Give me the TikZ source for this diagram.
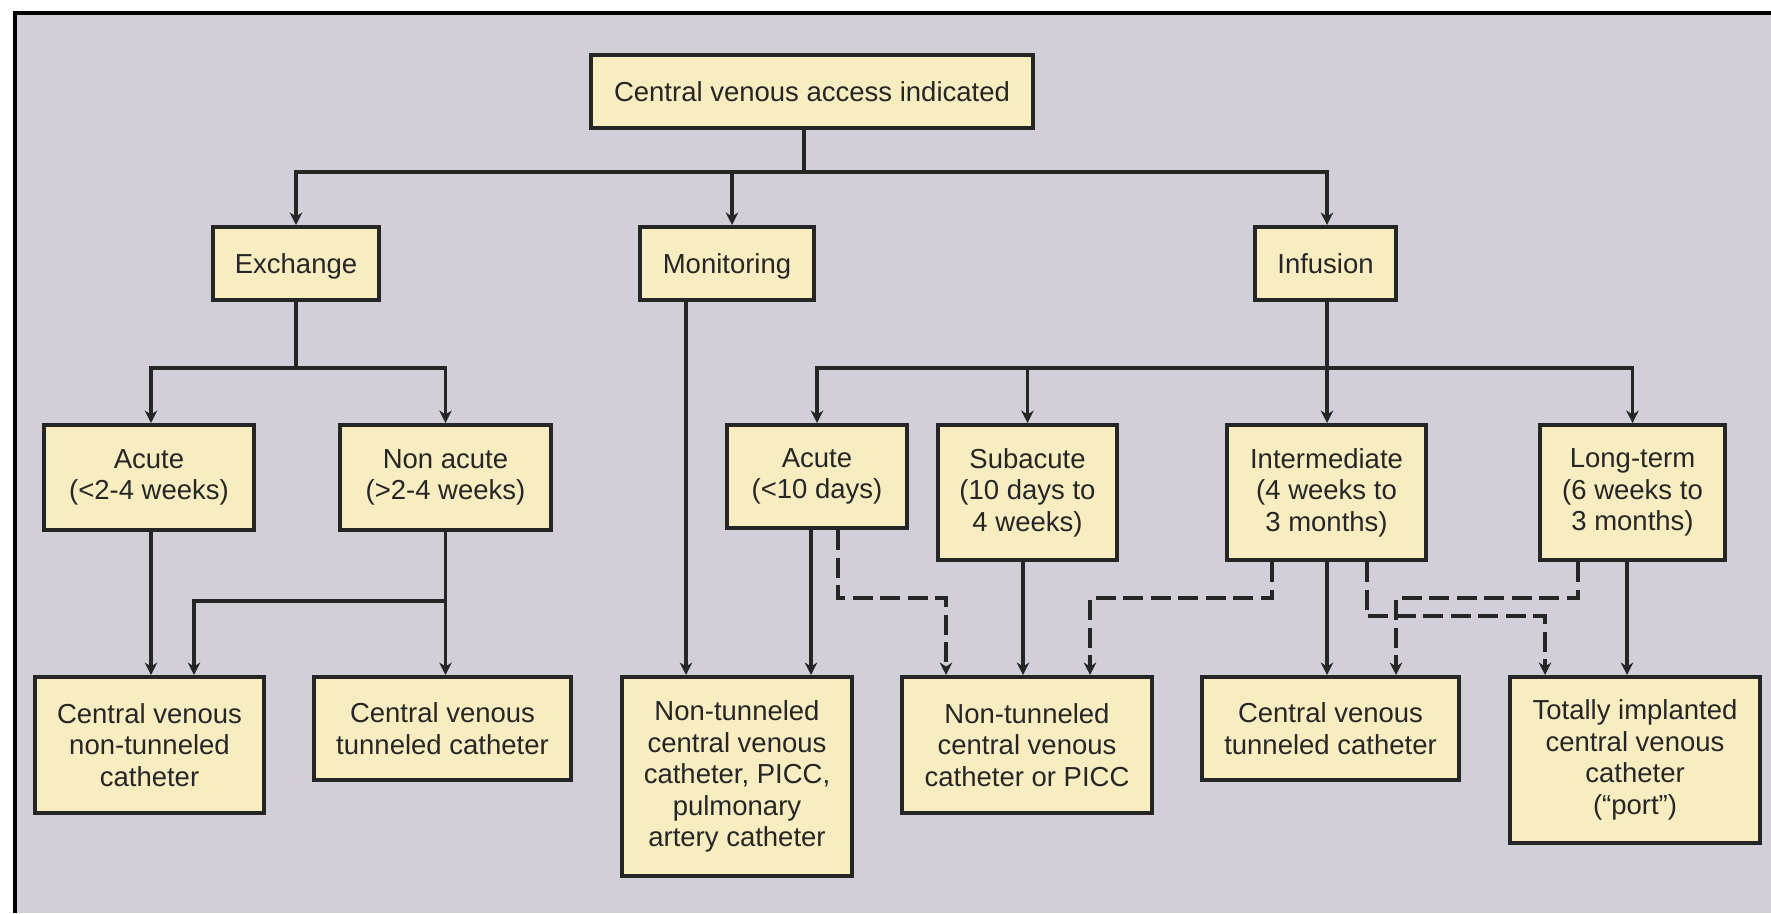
\documentclass[tikz,border=0pt]{standalone}
\usepackage{fontspec}
\setmainfont{Liberation Sans}
\usetikzlibrary{arrows.meta}
\definecolor{bg}{HTML}{D3CFD9}
\definecolor{boxfill}{HTML}{F7EDC0}
\definecolor{ink}{HTML}{262626}
\begin{document}
\begin{tikzpicture}[x=0.4pt,y=-0.4pt,
  box/.style={draw=ink, line width=1.6pt, fill=boxfill, text=ink, align=center,
    inner sep=0pt, font=\fontsize{11}{12.6}\selectfont},
  oneline/.style={text height=7.9pt, text depth=0pt},
  sz/.style 2 args={minimum width={(#1)*0.4pt}, minimum height={(#2)*0.4pt}},
  conn/.style={draw=ink, line width=1.3pt},
  arr/.style={conn, -{Stealth[length=5pt,width=5pt]}},
  darr/.style={arr, dash pattern=on 8pt off 3pt}]
\useasboundingbox (0,0) rectangle (1771,913);
\fill[bg] (13,11) rectangle (1771,913);
\draw[black, line width=1.6pt] (15,913) -- (15,13) -- (1771,13);

% boxes
\node[box, oneline, sz={442}{73}] (root) at (812,91.5) {Central venous access indicated};
\node[box, oneline, sz={166}{73}] (exch) at (296,263.5) {Exchange};
\node[box, oneline, sz={174}{73}] (mon) at (727,263.5) {Monitoring};
\node[box, oneline, sz={141}{73}] (inf) at (1325.5,263.5) {Infusion};

\node[box, sz={210}{105}] (acute1) at (149,477.5) {Acute\\(<2-4 weeks)};
\node[box, sz={211}{105}] (nonacute) at (445.5,477.5) {Non acute\\(>2-4 weeks)};
\node[box, sz={180}{103}] (acute2) at (817,476.5) {Acute\\(<10 days)};
\node[box, sz={179}{135}] (subacute) at (1027.5,492.5) {Subacute\\(10 days to\\4 weeks)};
\node[box, sz={199}{135}] (interm) at (1326.5,492.5) {Intermediate\\(4 weeks to\\3 months)};
\node[box, sz={185}{135}] (longterm) at (1632.5,492.5) {Long-term\\(6 weeks to\\3 months)};

\node[box, sz={229}{136}] (cvnt) at (149.5,745) {Central venous\\non-tunneled\\catheter};
\node[box, sz={257}{103}] (cvtc1) at (442.5,728.5) {Central venous\\tunneled catheter};
\node[box, sz={230}{199}] (ntpa) at (737,776.5) {Non-tunneled\\central venous\\catheter, PICC,\\pulmonary\\artery catheter};
\node[box, sz={250}{136}] (ntpicc) at (1027,745) {Non-tunneled\\central venous\\catheter or PICC};
\node[box, sz={257}{103}] (cvtc2) at (1330.5,728.5) {Central venous\\tunneled catheter};
\node[box, sz={250}{166}] (port) at (1635,760) {Totally implanted\\central venous\\catheter\\(“port”)};

% junction coordinates
\coordinate (J0) at (804,172);
\coordinate (M0) at (732,172);
\coordinate (J1) at (296,368);
\coordinate (M1) at (686,368);
\coordinate (J2) at (1327,368);
\coordinate (J3) at (445.5,601);
\coordinate (C1) at (194,601);
\coordinate (A1) at (151,600);
\coordinate (A2) at (811,600);
\coordinate (S1) at (1023,600);
\coordinate (L1) at (1627,600);
\coordinate (D1a) at (838,598);
\coordinate (D1b) at (946,598);
\coordinate (D2a) at (1272,598);
\coordinate (D2b) at (1090,598);
\coordinate (D3a) at (1367,616);
\coordinate (D3b) at (1545,616);
\coordinate (D4a) at (1578,598);
\coordinate (D4b) at (1396,598);

% top level
\draw[conn] (root.south -| J0) -- (J0);
\draw[arr] (J0) -| (exch.north);
\draw[arr] (M0) -- (mon.north -| M0);
\draw[arr] (J0) -| (inf.north -| J2);

% exchange
\draw[conn] (exch.south) -- (J1);
\draw[arr] (J1) -| (acute1.north -| A1);
\draw[arr] (J1) -| (nonacute.north);
\draw[arr] (acute1.south -| A1) -- (cvnt.north -| A1);
\draw[arr] (nonacute.south) -- (cvtc1.north -| nonacute.south);
\draw[arr] (J3) -- (C1) -- (cvnt.north -| C1);

% monitoring
\draw[arr] (mon.south -| M1) -- (ntpa.north -| M1);

% infusion
\draw[arr] (inf.south -| J2) -- (interm.north -| J2);
\draw[arr] (J2) -| (acute2.north);
\draw[arr] (J2) -| (subacute.north);
\draw[arr] (J2) -| (longterm.north);

\draw[arr] (acute2.south -| A2) -- (ntpa.north -| A2);
\draw[darr] (acute2.south -| D1a) -- (D1a) -- (D1b) -- (ntpicc.north -| D1b);
\draw[arr] (subacute.south -| S1) -- (ntpicc.north -| S1);
\draw[darr] (interm.south -| D2a) -- (D2a) -- (D2b) -- (ntpicc.north -| D2b);
\draw[arr] (interm.south -| J2) -- (cvtc2.north -| J2);
\draw[darr] (interm.south -| D3a) -- (D3a) -- (D3b) -- (port.north -| D3b);
\draw[darr] (longterm.south -| D4a) -- (D4a) -- (D4b) -- (cvtc2.north -| D4b);
\draw[arr] (longterm.south -| L1) -- (port.north -| L1);
\end{tikzpicture}
\end{document}
